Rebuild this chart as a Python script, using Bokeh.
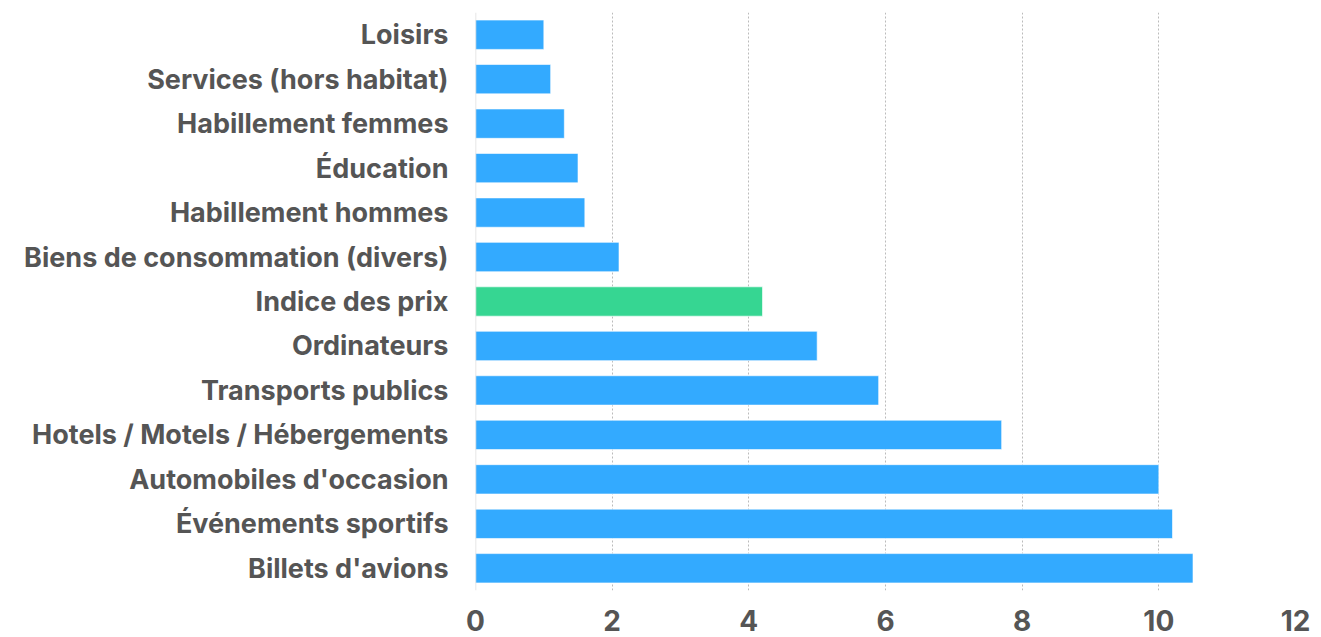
from bokeh.plotting import figure
from bokeh.models import ColumnDataSource, FactorRange, Range1d, Span, FixedTicker
from bokeh.embed import file_html
from bokeh.resources import INLINE

categories = [
    "Loisirs",
    "Services (hors habitat)",
    "Habillement femmes",
    "Éducation",
    "Habillement hommes",
    "Biens de consommation (divers)",
    "Indice des prix",
    "Ordinateurs",
    "Transports publics",
    "Hotels / Motels / Hébergements",
    "Automobiles d'occasion",
    "Événements sportifs",
    "Billets d'avions",
]
values = [1.0, 1.1, 1.3, 1.5, 1.6, 2.1, 4.2, 5.0, 5.9, 7.7, 10.0, 10.2, 10.5]
x_ticks = [0, 2, 4, 6, 8, 10, 12]
highlight = "Indice des prix"

BLUE = "#33aaff"
GREEN = "#36d692"
colors = [GREEN if c == highlight else BLUE for c in categories]

src = ColumnDataSource(dict(cat=categories, val=values, color=colors))

p = figure(
    width=1313, height=637,
    y_range=FactorRange(*list(reversed(categories)), range_padding=0),
    x_range=Range1d(0, 12),
    output_backend="svg", toolbar_location=None,
    min_border_left=475, min_border_right=18,
    min_border_top=12, min_border_bottom=47,
)
p.outline_line_color = None
p.background_fill_color = "white"

p.hbar(y="cat", right="val", left=0, height=0.66, source=src,
       fill_color="color", line_color="white", line_alpha=0.6, line_width=1)

zero = Span(location=0, dimension="height", line_color="#dddddd", line_width=1.5)
p.add_layout(zero)

p.ygrid.grid_line_color = None
p.xgrid.grid_line_color = "#bbbbbb"
p.xgrid.grid_line_dash = "2 2"
p.xgrid.grid_line_width = 1
p.xaxis.ticker = FixedTicker(ticks=x_ticks)

for ax in (p.xaxis[0], p.yaxis[0]):
    ax.axis_line_color = None
    ax.major_tick_line_color = None
    ax.minor_tick_line_color = None
    ax.major_label_text_font = "Inter"
    ax.major_label_text_font_style = "bold"
    ax.major_label_text_color = "#555555"

p.yaxis.major_label_text_font_size = "27px"
p.yaxis.major_label_standoff = 21
p.xaxis.major_label_text_font_size = "28px"
p.xaxis.major_label_standoff = 13

open("out.html", "w").write(file_html(p, INLINE))
